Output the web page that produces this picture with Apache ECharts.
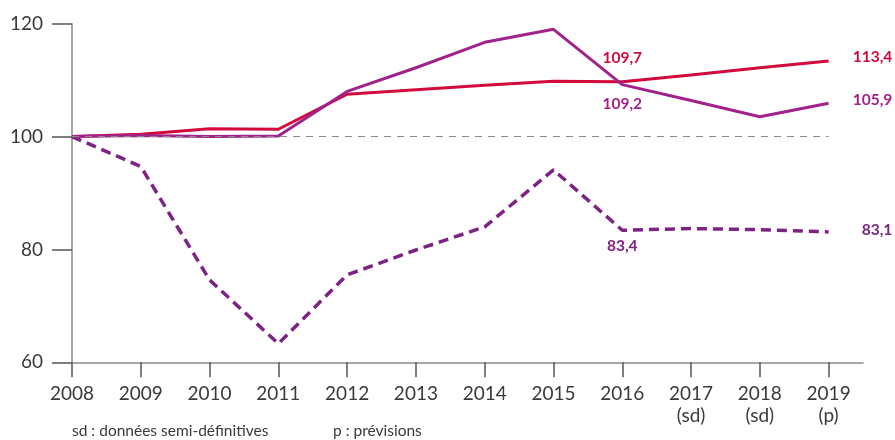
<!doctype html>
<html>
<head>
  <meta charset="utf-8">
  <title>indices 2008-2019</title>
  <script src="https://cdn.jsdelivr.net/npm/echarts@6/dist/echarts.min.js"></script>
  <style>
    body { margin: 0; background: #fff; }
    #main { width: 895px; height: 440px; }
  </style>
</head>
<body>
  <div id="main"></div>
<script>
// données
var years = [2008, 2009, 2010, 2011, 2012, 2013, 2014, 2015, 2016, 2017, 2018, 2019];
var yearLabels = ['2008', '2009', '2010', '2011', '2012', '2013', '2014', '2015', '2016', '2017\n(sd)', '2018\n(sd)', '2019\n(p)'];
var serieRouge = [100, 100.4, 101.4, 101.3, 107.5, 108.3, 109.1, 109.8, 109.7, 110.9, 112.2, 113.4];
var serieMagenta = [100, 100.2, 100.0, 100.1, 108.0, 112.2, 116.7, 119.0, 109.2, 106.4, 103.5, 105.9];
var serieTiret = [100, 94.7, 74.6, 63.3, 75.5, 79.9, 84.0, 94.1, 83.4, 83.7, 83.5, 83.1];
var yTicks = [60, 80, 100, 120];

var font = 'Lato';
var rouge = '#d20a3c', magenta = '#a2228c', violet = '#7c2383';

function pts(vals, labels) {
  // labels : {index: {position, offset}}
  return vals.map(function (v, i) {
    var d = { value: [years[i], v] };
    if (labels[i]) {
      d.label = Object.assign({
        show: true,
        formatter: function (p) { return String(p.value[1]).replace('.', ','); }
      }, labels[i]);
    }
    return d;
  });
}

var labelStyle = function (c) {
  return { color: c, fontFamily: font, fontWeight: 'bold', fontSize: 15.5 };
};

var myChart = echarts.init(document.getElementById('main'));
var option = {
  animation: false,
  grid: { left: 72, right: 32, top: 23.7, bottom: 77.7 },
  xAxis: {
    type: 'value',
    min: 2008,
    max: 2019.5,
    interval: 1,
    splitLine: { show: false },
    axisLine: { show: true, lineStyle: { color: '#8a8a8a', width: 1.5 } },
    axisTick: { show: true, length: 15, customValues: years, lineStyle: { color: '#555', width: 1.5 } },
    axisLabel: {
      customValues: years,
      margin: 21,
      color: '#3a3a3a',
      fontFamily: font,
      fontSize: 19,
      lineHeight: 22,
      formatter: function (v) { return yearLabels[years.indexOf(v)] || ''; }
    }
  },
  yAxis: {
    type: 'value',
    min: 60,
    max: 120,
    interval: 20,
    splitLine: { show: false },
    axisLine: { show: true, lineStyle: { color: '#8a8a8a', width: 1.5 } },
    axisTick: { show: true, length: 20, lineStyle: { color: '#555', width: 1.5 } },
    axisLabel: {
      margin: 29,
      color: '#3a3a3a',
      fontFamily: font,
      fontSize: 19,
      formatter: function (v) { return yTicks.indexOf(v) >= 0 ? String(v) : ''; }
    }
  },
  series: [
    {
      name: 'rouge',
      type: 'line',
      symbol: 'circle',
      symbolSize: 0.1,
      itemStyle: { color: 'rgba(0,0,0,0)' },
      z: 3,
      lineStyle: { color: rouge, width: 3 },
      label: labelStyle(rouge),
      data: pts(serieRouge, {
        8: { position: 'top', offset: [0, -11] },
        11: { position: 'right', offset: [19, -4] }
      }),
      markLine: {
        silent: true,
        symbol: 'none',
        label: { show: false },
        lineStyle: { color: '#8a8a8a', type: [7, 6], width: 1.2 },
        data: [[{ coord: [years[0], 100] }, { coord: [years[years.length - 1], 100] }]]
      }
    },
    {
      name: 'magenta',
      type: 'line',
      symbol: 'circle',
      symbolSize: 0.1,
      itemStyle: { color: 'rgba(0,0,0,0)' },
      z: 4,
      lineStyle: { color: magenta, width: 3 },
      label: labelStyle(magenta),
      data: pts(serieMagenta, {
        8: { position: 'bottom', offset: [0, 6] },
        11: { position: 'right', offset: [19, -3] }
      })
    },
    {
      name: 'tiret',
      type: 'line',
      symbol: 'circle',
      symbolSize: 0.1,
      itemStyle: { color: 'rgba(0,0,0,0)' },
      z: 2,
      lineStyle: { color: violet, width: 3.5, type: [10, 6] },
      label: labelStyle(violet),
      data: pts(serieTiret, {
        8: { position: 'bottom', offset: [0, 3] },
        11: { position: 'right', offset: [28, -2] }
      })
    }
  ],
  graphic: [
    { type: 'text', left: 72, top: 423, style: { text: 'sd : données semi-définitives', fill: '#3a3a3a', font: '15.5px ' + font } },
    { type: 'text', left: 333, top: 423, style: { text: 'p : prévisions', fill: '#3a3a3a', font: '15.5px ' + font } }
  ]
};
myChart.setOption(option);
</script>
</body>
</html>
